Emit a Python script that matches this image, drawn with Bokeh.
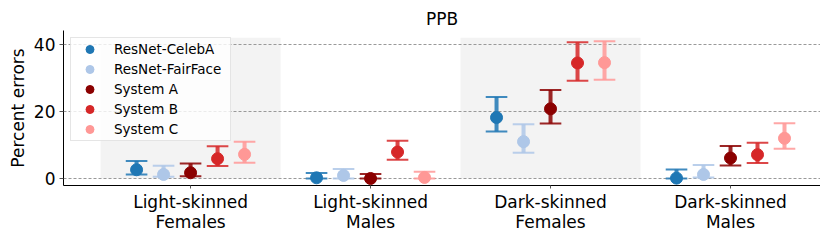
from bokeh.plotting import figure
from bokeh.models import ColumnDataSource, FixedTicker, Legend, LegendItem
from bokeh.embed import file_html
from bokeh.resources import INLINE

categories = ["Light-skinned\nFemales", "Light-skinned\nMales",
              "Dark-skinned\nFemales", "Dark-skinned\nMales"]
models = ["ResNet-CelebA", "ResNet-FairFace", "System A", "System B", "System C"]
colors = ["#1f77b4", "#aec7e8", "#8b0000", "#d62728", "#ff9896"]
offsets = [-0.3, -0.15, 0.0, 0.15, 0.3]

celeba = [2.6, 0.2, 18.2, 0.1]
celeba_lo = [1.2, 0.0, 14.0, 0.0]
celeba_hi = [5.2, 1.6, 24.3, 2.7]

fairface = [1.2, 0.9, 11.0, 1.2]
fairface_lo = [0.5, 0.0, 7.7, 0.3]
fairface_hi = [3.8, 2.8, 16.2, 4.0]

sysA = [1.7, 0.0, 20.8, 6.1]
sysA_lo = [0.7, 0.0, 16.4, 3.9]
sysA_hi = [4.5, 1.3, 26.4, 9.7]

sysB = [5.9, 7.9, 34.5, 7.1]
sysB_lo = [3.7, 5.6, 29.2, 4.6]
sysB_hi = [9.6, 11.3, 40.7, 10.7]

sysC = [7.2, 0.3, 34.6, 12.0]
sysC_lo = [4.7, 0.0, 29.5, 8.9]
sysC_hi = [11.0, 2.0, 41.0, 16.5]

values = [celeba, fairface, sysA, sysB, sysC]
lowers = [celeba_lo, fairface_lo, sysA_lo, sysB_lo, sysC_lo]
uppers = [celeba_hi, fairface_hi, sysA_hi, sysB_hi, sysC_hi]

shaded = [0, 2]
band_top = 42
yticks = [0, 20, 40]

FONT = "DejaVu Sans"

p = figure(frame_width=757, frame_height=155, output_backend="svg", toolbar_location=None,
           x_range=(-0.706, 3.5), y_range=(-2.1, 44.2),
           min_border_left=0, min_border_right=0, min_border_top=0,
           min_border_bottom=0, title="PPB")
p.margin = (4, 0, 0, 4)
p.outline_line_color = None
p.title.align = "center"
p.title.text_font = FONT
p.title.text_font_size = "17px"
p.title.text_font_style = "normal"
p.title.text_color = "black"
p.title.standoff = 4

# shaded bands
p.quad(left=[i - 0.5 for i in shaded], right=[i + 0.5 for i in shaded],
       bottom=[0] * len(shaded), top=[band_top] * len(shaded),
       fill_color="#f3f3f3", line_color=None, level="underlay")

cap = 0.06
items = []
for m, col, off, vals, lo, hi in zip(models, colors, offsets, values, lowers, uppers):
    xs = [i + off for i in range(len(categories))]
    src = ColumnDataSource(dict(x=xs, y=vals, lo=lo, hi=hi,
                                xl=[x - cap for x in xs], xr=[x + cap for x in xs]))
    p.segment(x0="x", y0="lo", x1="x", y1="hi", source=src,
              line_color=col, line_width=4, line_alpha=0.85)
    p.segment(x0="xl", y0="lo", x1="xr", y1="lo", source=src,
              line_color=col, line_width=2, line_alpha=0.85)
    p.segment(x0="xl", y0="hi", x1="xr", y1="hi", source=src,
              line_color=col, line_width=2, line_alpha=0.85)
    r = p.scatter(x="x", y="y", source=src, size=12, marker="circle",
                  fill_color=col, line_color=col)
    items.append(LegendItem(label=m, renderers=[r]))

legend = Legend(items=items, location="top_left", margin=7, padding=1,
                spacing=0, label_height=20, glyph_height=20, glyph_width=35,
                label_width=115, label_standoff=7, label_text_font=FONT,
                label_text_font_size="13.5px", label_text_color="black",
                border_line_color="#cccccc", background_fill_alpha=0.8)
p.add_layout(legend)

# axes
p.xaxis.ticker = FixedTicker(ticks=list(range(len(categories))))
p.xaxis.major_label_overrides = {i: c for i, c in enumerate(categories)}
p.xaxis.major_label_text_font = FONT
p.xaxis.major_label_text_font_size = "17px"
p.xaxis.major_label_text_color = "black"
p.xaxis.major_label_text_line_height = 1.0
p.xaxis.major_tick_in = 0
p.xaxis.major_tick_out = 3
p.xaxis.major_tick_line_color = "#555555"
p.xaxis.minor_tick_line_color = None
p.xaxis.major_label_standoff = 3
p.xaxis.axis_line_color = "black"

p.yaxis.ticker = FixedTicker(ticks=yticks)
p.yaxis.major_label_text_font = FONT
p.yaxis.major_label_text_font_size = "17px"
p.yaxis.major_label_text_color = "black"
p.yaxis.major_tick_in = 0
p.yaxis.major_tick_out = 4
p.yaxis.major_tick_line_color = "#555555"
p.yaxis.minor_tick_line_color = None
p.yaxis.major_label_standoff = 4
p.yaxis.axis_label = "Percent errors"
p.yaxis.axis_label_text_font = FONT
p.yaxis.axis_label_text_font_size = "17px"
p.yaxis.axis_label_text_color = "black"
p.yaxis.axis_label_text_font_style = "normal"
p.yaxis.axis_label_standoff = 3
p.yaxis.axis_line_color = "black"

p.xgrid.grid_line_color = None
p.ygrid.ticker = FixedTicker(ticks=yticks)
p.ygrid.grid_line_color = "#999999"
p.ygrid.grid_line_dash = "3 2"
p.ygrid.grid_line_width = 1

open("out.html", "w").write(file_html(p, INLINE))
